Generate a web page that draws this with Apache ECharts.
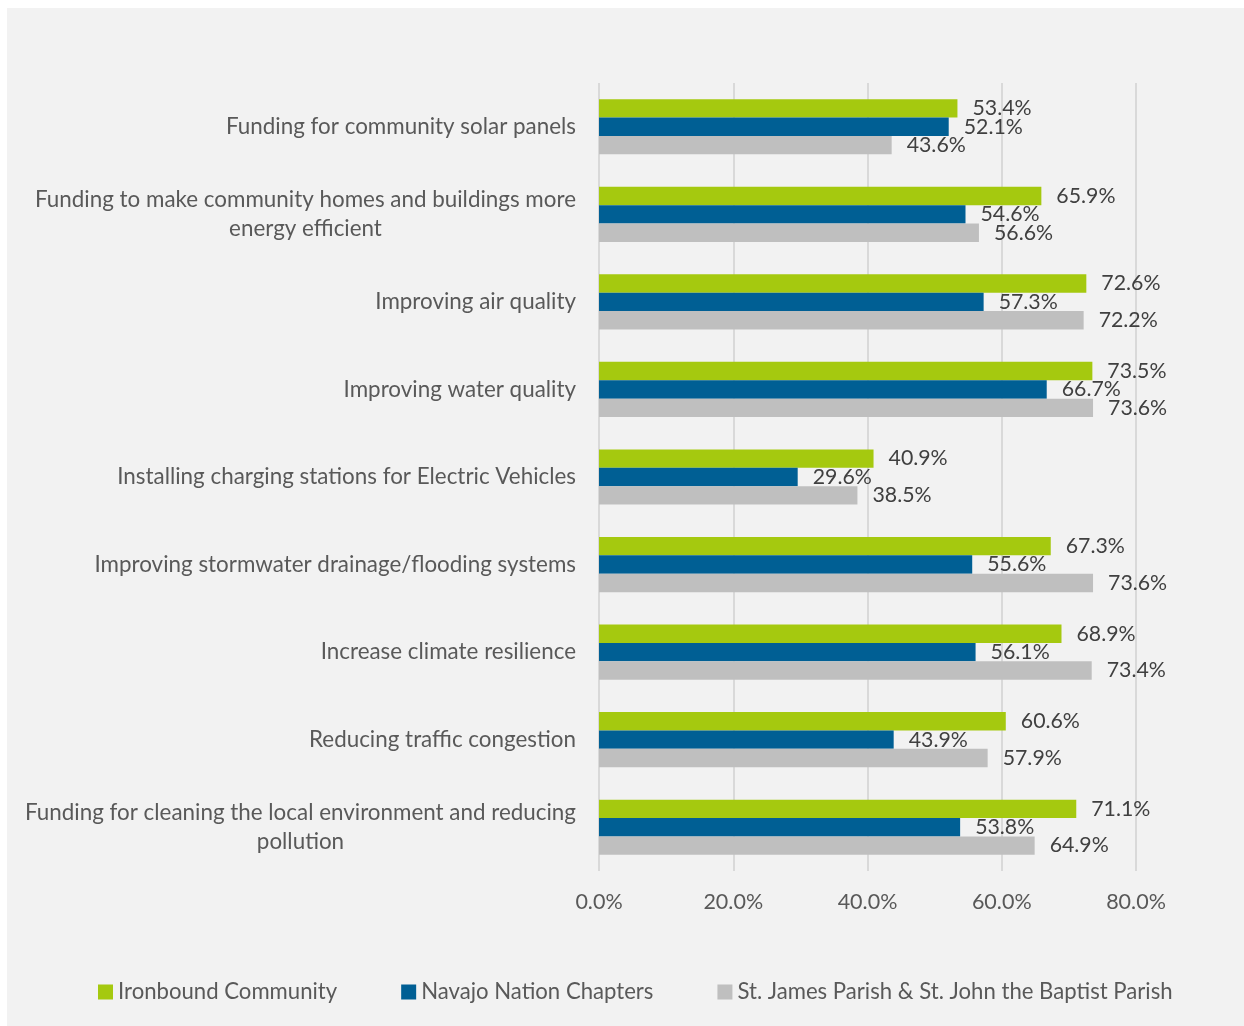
<!DOCTYPE html>
<html>
<head>
<meta charset="utf-8">
<script src="https://cdn.jsdelivr.net/npm/echarts@6/dist/echarts.min.js"></script>
<style>
  html, body { margin: 0; padding: 0; background: #ffffff; }
  #chart { position: absolute; left: 7px; top: 8px; width: 1237px; height: 1018px; background: #f2f2f2; }
</style>
</head>
<body>
<div id="chart"></div>
<script>
// Survey categories (top to bottom)
const categories = [
  'Funding for community solar panels',
  'Funding to make community homes and buildings more\nenergy efficient',
  'Improving air quality',
  'Improving water quality',
  'Installing charging stations for Electric Vehicles',
  'Improving stormwater drainage/flooding systems',
  'Increase climate resilience',
  'Reducing traffic congestion',
  'Funding for cleaning the local environment and reducing\npollution'
];

// Share of respondents (%) per community
const ironbound = [53.4, 65.9, 72.6, 73.5, 40.9, 67.3, 68.9, 60.6, 71.1];
const navajo    = [52.1, 54.6, 57.3, 66.7, 29.6, 55.6, 56.1, 43.9, 53.8];
const stJames   = [43.6, 56.6, 72.2, 73.6, 38.5, 73.6, 73.4, 57.9, 64.9];

const seriesNames = [
  'Ironbound Community',
  'Navajo Nation Chapters',
  'St. James Parish & St. John the Baptist Parish'
];

// X axis ticks (%)
const xTicks = [0, 20, 40, 60, 80];

const FONT = 'Lato, "Open Sans", sans-serif';
const colors = ['#a5c90f', '#005f94', '#bfbfbf'];

const chart = echarts.init(document.getElementById('chart'));

const labelStyle = {
  show: true,
  position: 'right',
  distance: 15,
  color: '#404040',
  fontFamily: FONT,
  fontSize: 21.3,
  formatter: p => p.value.toFixed(1) + '%'
};

const makeSeries = (name, data, color) => ({
  name: name,
  type: 'bar',
  data: data,
  barGap: '0%',
  barCategoryGap: '37%',
  itemStyle: { color: color },
  label: labelStyle,
  emphasis: { disabled: true }
});

chart.setOption({
  animation: false,
  backgroundColor: '#f2f2f2',
  color: colors,
  grid: { left: 592, right: 108, top: 75, bottom: 155, containLabel: false },
  xAxis: {
    type: 'value',
    min: xTicks[0],
    max: xTicks[xTicks.length - 1],
    interval: xTicks[1] - xTicks[0],
    axisLine: { show: false },
    axisTick: { show: false },
    splitLine: { show: true, lineStyle: { color: '#d9d9d9', width: 2 } },
    axisLabel: {
      margin: 20,
      color: '#595959',
      fontFamily: FONT,
      fontSize: 21.5,
      formatter: v => v.toFixed(1) + '%'
    }
  },
  yAxis: {
    type: 'category',
    data: categories,
    inverse: true,
    axisLine: { show: false },
    axisTick: { show: false },
    axisLabel: {
      margin: 23,
      color: '#595959',
      fontFamily: FONT,
      fontSize: 22.4,
      lineHeight: 29,
      formatter: v => v.split('\n').map(l => '{c|' + l + '}').join('\n'),
      rich: {
        c: {
          align: 'center',
          color: '#595959',
          fontFamily: FONT,
          fontSize: 22.4,
          lineHeight: 29
        }
      }
    }
  },
  legend: {
    left: 86,
    top: 968,
    icon: 'rect',
    itemWidth: 15,
    itemHeight: 15,
    itemGap: 64,
    textStyle: { color: '#595959', fontFamily: FONT, fontSize: 22.15 },
    data: seriesNames
  },
  series: [
    makeSeries(seriesNames[0], ironbound, colors[0]),
    makeSeries(seriesNames[1], navajo, colors[1]),
    makeSeries(seriesNames[2], stJames, colors[2])
  ]
});
</script>
</body>
</html>
